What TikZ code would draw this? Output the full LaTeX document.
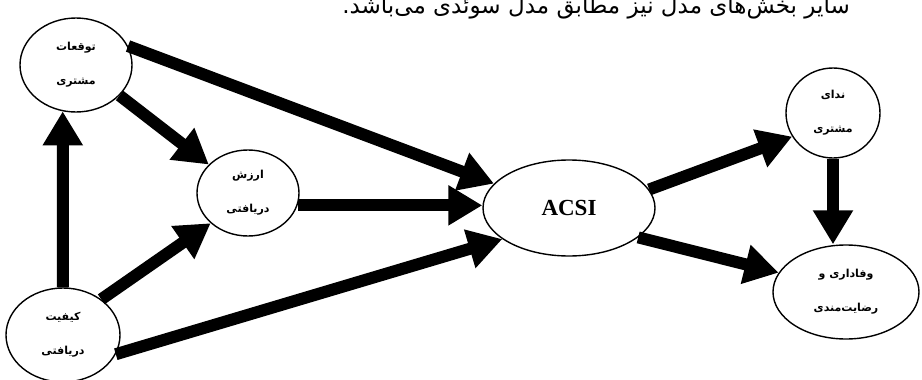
\documentclass[tikz,border=0pt]{standalone}
\usepackage{fontspec}
\setmainfont{Liberation Serif}
\newfontfamily\arabicfont[Script=Arabic]{DejaVu Sans}
\TeXXeTstate=1
\usetikzlibrary{shapes.geometric,arrows.meta}
\begin{document}
\begin{tikzpicture}[x=1pt,y=-1pt,
  bubble/.style={ellipse,draw,line width=1.4pt,inner sep=0pt,align=center,
    font=\arabicfont\bfseries\fontsize{11}{34}\selectfont},
  flow/.style={line width=12pt,-{Triangle[length=34pt,width=38pt]}}]
\useasboundingbox (0,0) rectangle (922,380);
\node[font=\arabicfont\fontsize{23}{26}\selectfont,anchor=base] (T) at (596,13)
  {\beginR سایر بخش‌های مدل نیز مطابق مدل سوئدی می‌باشد.\endR};
\node[bubble,minimum width=112pt,minimum height=94pt] (E) at (76,65)
  {\beginR توقعات\endR\\\beginR مشتری\endR};
\node[bubble,minimum width=102pt,minimum height=86pt] (V) at (248,193)
  {\beginR ارزش\endR\\\beginR دریافتی\endR};
\node[bubble,minimum width=114pt,minimum height=94pt] (Q) at (63,335)
  {\beginR کیفیت\endR\\\beginR دریافتی\endR};
\node[bubble,minimum width=172pt,minimum height=96pt,font=\bfseries\fontsize{23}{26}\selectfont] (A) at (569,208) {ACSI};
\node[bubble,minimum width=94pt,minimum height=90pt] (C) at (833,113)
  {\beginR ندای\endR\\\beginR مشتری\endR};
\node[bubble,minimum width=146pt,minimum height=94pt] (L) at (846,292)
  {\beginR وفاداری و\endR\\\beginR رضایت‌مندی\endR};
\draw[flow] (Q.90) -- (E.-106);
\draw[flow] (E.-35) -- (V.144);
\draw[flow] (E.20) -- (A.162);
\draw[flow] (V.-14) -- (V.-14 -| A.west);
\draw[flow] (Q.43) -- (V.-141);
\draw[flow] (Q.-20) -- (A.205);
\draw[flow] (A.13) -- (C.210);
\draw[flow] (A.-23) -- (L.164);
\draw[flow] (C.south) -- (C.south |- L.north);
\end{tikzpicture}
\end{document}
